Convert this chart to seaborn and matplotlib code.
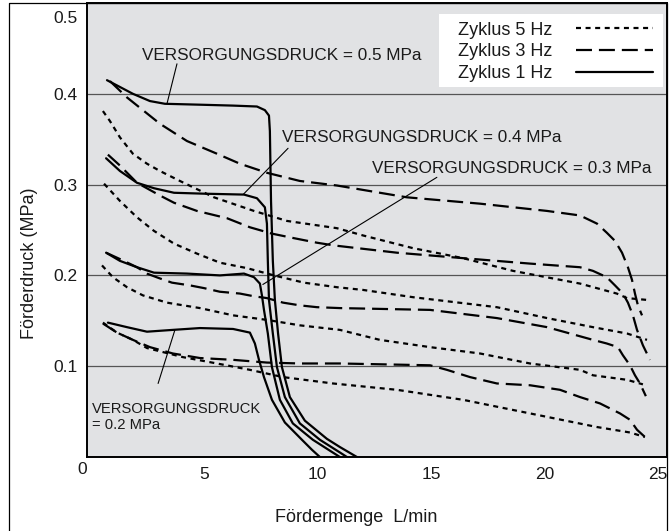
import matplotlib
matplotlib.use("Agg")
import matplotlib.pyplot as plt
import matplotlib.transforms as mtransforms
from matplotlib.lines import Line2D
from matplotlib.patches import Rectangle
import pandas as pd
import seaborn as sns

# Förderkennlinien einer Pumpe: Fördermenge (L/min) gegen Förderdruck (MPa),
# je Versorgungsdruck und Schaltzyklus.

cycles = ["Zyklus 5 Hz", "Zyklus 3 Hz", "Zyklus 1 Hz"]
supply_levels = ["0.5", "0.4", "0.3", "0.2"]

# --- Zyklus 1 Hz ---
flow_05_1hz = [0.74, 1.88, 2.63, 3.29, 4.83, 6.29, 7.34, 7.69, 7.87, 7.91, 7.96, 8.04,
               8.13, 8.27, 8.44, 8.79, 9.45, 10.42, 10.99, 11.74]
press_05_1hz = [0.415, 0.400, 0.392, 0.389, 0.388, 0.387, 0.386, 0.382, 0.376, 0.359, 0.282,
                0.216, 0.173, 0.136, 0.099, 0.066, 0.040, 0.020, 0.011, 0.0]

flow_04_1hz = [0.70, 1.31, 2.06, 2.81, 3.69, 5.01, 6.77, 7.34, 7.69, 7.78, 7.82, 7.87,
               8.04, 8.22, 8.57, 9.23, 10.11, 10.99, 11.30]
press_04_1hz = [0.329, 0.315, 0.302, 0.296, 0.291, 0.290, 0.289, 0.285, 0.275, 0.257, 0.216,
                0.173, 0.136, 0.099, 0.066, 0.037, 0.019, 0.005, 0.0]

flow_03_1hz = [0.70, 1.31, 2.06, 2.81, 4.26, 5.71, 6.77, 7.21, 7.47, 7.56, 7.65, 7.82,
               8.00, 8.35, 8.92, 9.80, 10.55, 10.99]
press_03_1hz = [0.225, 0.216, 0.209, 0.203, 0.202, 0.200, 0.202, 0.198, 0.191, 0.178, 0.162,
                0.136, 0.099, 0.063, 0.037, 0.019, 0.007, 0.0]

flow_02_1hz = [0.78, 1.62, 2.50, 3.64, 4.83, 6.29, 7.03, 7.25, 7.43, 7.65, 8.00, 8.57,
               9.32, 9.76, 10.11]
press_02_1hz = [0.148, 0.143, 0.138, 0.140, 0.142, 0.141, 0.137, 0.125, 0.107, 0.088, 0.063,
                0.038, 0.019, 0.008, 0.0]

# --- Zyklus 3 Hz ---
flow_05_3hz = [0.87, 1.62, 3.07, 4.26, 5.58, 6.59, 7.78, 9.23, 10.86, 13.94, 17.16, 20.11,
               21.56, 22.31, 22.74, 23.10, 23.41, 23.67, 23.85, 23.98, 24.11, 24.29]
press_05_3hz = [0.414, 0.396, 0.367, 0.348, 0.334, 0.323, 0.313, 0.304, 0.299, 0.286, 0.279,
                0.271, 0.266, 0.257, 0.247, 0.238, 0.225, 0.209, 0.195, 0.180, 0.167, 0.156]

flow_04_3hz = [0.78, 1.31, 2.06, 3.07, 3.69, 4.70, 6.02, 7.03, 8.00, 8.97, 9.98, 10.73,
               13.50, 16.41, 19.36, 21.56, 22.13, 22.74, 23.10, 23.45, 23.67, 23.89, 24.07,
               24.33, 24.64]
press_04_3hz = [0.333, 0.321, 0.302, 0.288, 0.280, 0.271, 0.263, 0.253, 0.246, 0.241, 0.236,
                0.233, 0.225, 0.219, 0.213, 0.209, 0.205, 0.198, 0.189, 0.180, 0.170, 0.156,
                0.140, 0.123, 0.107]

flow_03_3hz = [0.70, 1.31, 2.06, 2.50, 3.03, 3.60, 4.39, 5.01, 5.71, 6.59, 7.21, 7.78,
               8.49, 9.23, 9.98, 10.99, 14.96, 17.90, 20.11, 22.13, 22.74, 23.23, 23.45,
               23.76, 23.98, 24.20, 24.46]
press_03_3hz = [0.225, 0.218, 0.209, 0.202, 0.197, 0.192, 0.189, 0.186, 0.182, 0.180, 0.177,
                0.175, 0.170, 0.167, 0.165, 0.164, 0.162, 0.153, 0.143, 0.129, 0.125, 0.121,
                0.112, 0.101, 0.090, 0.081, 0.067]

flow_02_3hz = [0.56, 1.18, 1.88, 2.63, 3.64, 4.83, 6.29, 7.78, 9.23, 10.99, 14.96, 15.70,
               16.72, 17.90, 19.36, 20.68, 21.56, 22.44, 23.32, 23.76, 24.07, 24.42]
press_02_3hz = [0.147, 0.137, 0.129, 0.121, 0.114, 0.109, 0.107, 0.104, 0.103, 0.103, 0.101,
                0.096, 0.088, 0.081, 0.079, 0.074, 0.066, 0.059, 0.048, 0.041, 0.030, 0.022]

# --- Zyklus 5 Hz ---
flow_05_5hz = [0.56, 0.87, 1.31, 1.88, 2.50, 3.07, 3.95, 5.45, 7.21, 8.66, 10.86, 12.01,
               14.21, 16.41, 18.61, 21.56, 23.18, 23.63, 24.51]
press_05_5hz = [0.381, 0.370, 0.352, 0.334, 0.323, 0.315, 0.304, 0.286, 0.271, 0.260, 0.252,
                0.244, 0.230, 0.219, 0.205, 0.191, 0.180, 0.175, 0.173]

flow_04_5hz = [0.61, 1.31, 2.06, 2.81, 3.69, 4.70, 5.71, 6.90, 8.09, 9.41, 10.86, 12.01,
               14.21, 17.90, 20.11, 22.13, 23.63, 24.51]
press_04_5hz = [0.301, 0.282, 0.264, 0.249, 0.235, 0.224, 0.214, 0.208, 0.200, 0.192, 0.187,
                0.184, 0.176, 0.165, 0.153, 0.143, 0.136, 0.129]

flow_03_5hz = [0.52, 1.00, 1.62, 2.32, 3.38, 4.83, 6.29, 7.78, 9.23, 10.99, 12.75, 14.96,
               17.16, 19.36, 21.56, 22.13, 23.63, 24.33]
press_03_5hz = [0.211, 0.198, 0.187, 0.178, 0.170, 0.164, 0.156, 0.151, 0.145, 0.140, 0.129,
                0.121, 0.114, 0.103, 0.096, 0.090, 0.085, 0.080]

flow_02_5hz = [0.56, 1.18, 1.88, 2.50, 4.08, 5.58, 7.03, 8.49, 10.68, 13.50, 16.41, 19.36,
               22.31, 23.76, 24.42]
press_02_5hz = [0.148, 0.137, 0.129, 0.120, 0.110, 0.103, 0.096, 0.088, 0.081, 0.074, 0.063,
                0.048, 0.033, 0.027, 0.022]

x_ticks = [5, 10, 15, 20, 25]
y_ticks = [0, 0.1, 0.2, 0.3, 0.4, 0.5]
y_tick_labels = ["0", "0.1", "0.2", "0.3", "0.4", "0.5"]

supply_labels = ["VERSORGUNGSDRUCK = 0.5 MPa", "VERSORGUNGSDRUCK = 0.4 MPa",
                 "VERSORGUNGSDRUCK = 0.3 MPa", "VERSORGUNGSDRUCK\n= 0.2 MPa"]

curves = {
    ("0.5", "Zyklus 1 Hz"): (flow_05_1hz, press_05_1hz),
    ("0.4", "Zyklus 1 Hz"): (flow_04_1hz, press_04_1hz),
    ("0.3", "Zyklus 1 Hz"): (flow_03_1hz, press_03_1hz),
    ("0.2", "Zyklus 1 Hz"): (flow_02_1hz, press_02_1hz),
    ("0.5", "Zyklus 3 Hz"): (flow_05_3hz, press_05_3hz),
    ("0.4", "Zyklus 3 Hz"): (flow_04_3hz, press_04_3hz),
    ("0.3", "Zyklus 3 Hz"): (flow_03_3hz, press_03_3hz),
    ("0.2", "Zyklus 3 Hz"): (flow_02_3hz, press_02_3hz),
    ("0.5", "Zyklus 5 Hz"): (flow_05_5hz, press_05_5hz),
    ("0.4", "Zyklus 5 Hz"): (flow_04_5hz, press_04_5hz),
    ("0.3", "Zyklus 5 Hz"): (flow_03_5hz, press_03_5hz),
    ("0.2", "Zyklus 5 Hz"): (flow_02_5hz, press_02_5hz),
}

rows = []
for (supply, cycle), (fx, py) in curves.items():
    for i, (a, b) in enumerate(zip(fx, py)):
        rows.append({"curve": f"{supply}-{cycle}", "cycle": cycle, "order": i,
                     "flow": a, "pressure": b})
df = pd.DataFrame(rows)

sns.set_theme(style="white")
plt.rcParams["font.family"] = ["Liberation Sans", "DejaVu Sans"]

W, H = 670, 531
fig = plt.figure(figsize=(W / 100, H / 100), dpi=100)
ax = fig.add_axes([87 / W, 1 - 457 / H, (667 - 87) / W, (457 - 3) / H])
ax.set_facecolor("#e1e2e4")

lw = 1.6
dash_styles = {
    "Zyklus 5 Hz": (3.6 / lw, 3.3 / lw),
    "Zyklus 3 Hz": (11.5 / lw, 5.0 / lw),
    "Zyklus 1 Hz": "",
}
sns.lineplot(data=df, x="flow", y="pressure", style="cycle", units="curve",
             estimator=None, sort=False, style_order=cycles, dashes=dash_styles,
             color="black", lw=lw, ax=ax, zorder=3)

ax.set_xlim(-0.14, 25.39)
ax.set_ylim(0, 0.5)
ax.set_xlabel("")
ax.set_ylabel("")

ax.set_xticks(x_ticks)
ax.set_yticks(y_ticks, y_tick_labels)
ax.tick_params(axis="x", direction="in", length=4.5, width=0.9, color="#333333",
               pad=7, labelsize=12.5, labelcolor="#1a1a1a")
ax.tick_params(axis="y", length=0, pad=7, labelsize=12.5, labelcolor="#1a1a1a")
ax.xaxis.get_major_ticks()[-1].tick1line.set_visible(False)

yt = ax.yaxis.get_major_ticks()
shift0 = mtransforms.ScaledTranslation(10 / 100, -11 / 100, fig.dpi_scale_trans)
yt[0].label1.set_transform(yt[0].label1.get_transform() + shift0)
shift5 = mtransforms.ScaledTranslation(0, -14 / 100, fig.dpi_scale_trans)
yt[-1].label1.set_transform(yt[-1].label1.get_transform() + shift5)

ax.yaxis.grid(True, color="#555555", lw=0.9)
ax.xaxis.grid(False)
ax.set_axisbelow(True)
for s in ax.spines.values():
    s.set_color("black")
    s.set_linewidth(1.4)

# annotation labels and leader lines
text_pos = [(2.28, 0.442), (8.44, 0.352), (12.40, 0.318), (0.08, 0.044)]
text_size = [12.3, 12.3, 12.3, 10.6]
leader_from = [(3.82, 0.433), (8.71, 0.340), (15.26, 0.308), (2.99, 0.081)]
leader_to = [(3.38, 0.389), (6.73, 0.289), (7.60, 0.190), (3.73, 0.140)]
for lab, pos, fs, a, b in zip(supply_labels, text_pos, text_size, leader_from, leader_to):
    ax.text(pos[0], pos[1], lab, ha="left", va="center", fontsize=fs,
            color="#1a1a1a", linespacing=1.25, zorder=5)
    ax.annotate("", xy=b, xytext=a,
                arrowprops=dict(arrowstyle="-", color="black", lw=0.8,
                                shrinkA=0, shrinkB=0), zorder=5)

# white legend panel
ax.add_patch(Rectangle((439 / W, 1 - 87 / H), (663 - 439) / W, (87 - 14) / H,
                       transform=fig.transFigure, facecolor="white", edgecolor="none",
                       zorder=6, clip_on=False))

handles, labels = ax.get_legend_handles_labels()
pairs = [(h, l) for h, l in zip(handles, labels) if l in cycles]
pairs.sort(key=lambda p: cycles.index(p[1]))
leg = ax.legend([p[0] for p in pairs], [p[1] for p in pairs],
                loc="upper right", bbox_to_anchor=(657 / W, 1 - 18 / H),
                bbox_transform=fig.transFigure, borderaxespad=0, markerfirst=False,
                frameon=False, fontsize=13, handlelength=4.3, handletextpad=1.3,
                labelspacing=0.27, borderpad=0.2)
leg.set_zorder(7)
for t in leg.get_texts():
    t.set_color("#1a1a1a")

fig.text(29 / W, 1 - 263 / H, "Förderdruck (MPa)", rotation=90, ha="center",
         va="center", fontsize=13, color="#1a1a1a")
fig.text(356 / W, 1 - 517 / H, "Fördermenge  L/min", ha="center", va="center",
         fontsize=13, color="#1a1a1a")

# outer frame of the figure
fig.add_artist(Line2D([9 / W, 9 / W, 667 / W, 667 / W], [0, 1 - 3 / H, 1 - 3 / H, 0],
                      transform=fig.transFigure, color="black", lw=0.9))

fig.savefig("out.png", dpi=100)
